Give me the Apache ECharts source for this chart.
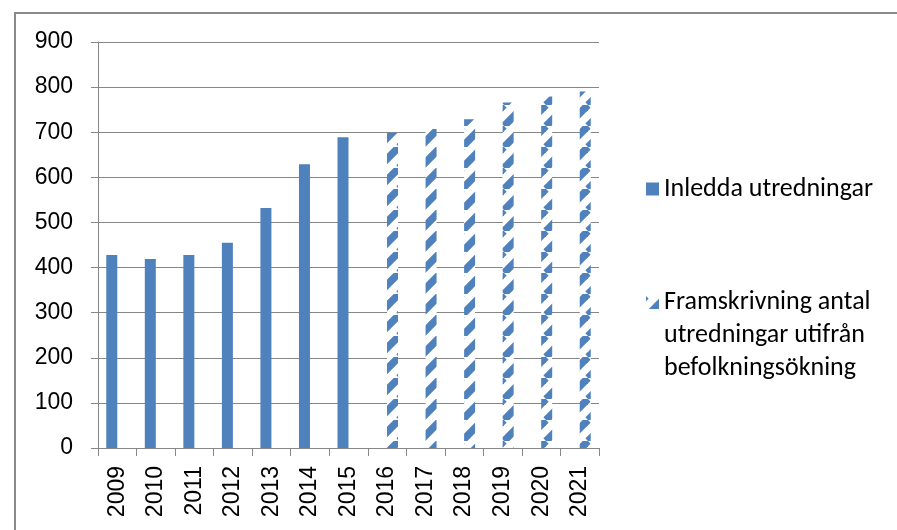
<!DOCTYPE html>
<html>
<head>
<meta charset="utf-8">
<script src="https://cdn.jsdelivr.net/npm/echarts@6/dist/echarts.min.js"></script>
<style>
  html, body { margin: 0; padding: 0; background: #fff; }
  #chart { width: 897px; height: 530px; }
</style>
</head>
<body>
<div id="chart"></div>
<script>
  var years = ['2009', '2010', '2011', '2012', '2013', '2014', '2015', '2016', '2017', '2018', '2019', '2020', '2021'];
  var yTicks = [0, 100, 200, 300, 400, 500, 600, 700, 800, 900];
  var inledda = [428, 419, 428, 455, 532, 629, 689, null, null, null, null, null, null];
  var framskrivning = [null, null, null, null, null, null, null, 699, 707, 729, 766, 779, 790];
  var name1 = 'Inledda utredningar';
  var name2 = 'Framskrivning antal\nutredningar utifrån\nbefolkningsökning';

  var blue = '#4F81BD';
  var gray = '#868686';
  var legendFont = 'Carlito, Lato, sans-serif';
  var legendSize = 26;

  // diagonal "/" hatch like the excel pattern fill
  function makeHatch() {
    var s = 21;
    var c = document.createElement('canvas');
    c.width = s;
    c.height = s;
    var ctx = c.getContext('2d');
    ctx.fillStyle = '#fff';
    ctx.fillRect(0, 0, s, s);
    ctx.strokeStyle = blue;
    ctx.lineWidth = 7.5;
    for (var k = -1; k <= 1; k++) {
      ctx.beginPath();
      ctx.moveTo(k * s, s);
      ctx.lineTo(k * s + s, 0);
      ctx.stroke();
    }
    return c;
  }
  var hatch = { image: makeHatch(), repeat: 'repeat' };

  var chart = echarts.init(document.getElementById('chart'));
  var option = {
    animation: false,
    graphic: [{
      type: 'rect',
      shape: { x: 15, y: 13, width: 900, height: 540 },
      style: { fill: 'none', stroke: '#8a8a8a', lineWidth: 2 },
      silent: true
    }],
    grid: {
      left: 98,
      right: 298,
      top: 42,
      bottom: 82,
      outerBoundsMode: 'none'
    },
    legend: [{
      data: [name1],
      left: 641,
      top: 171,
      icon: 'rect',
      itemWidth: 13,
      itemHeight: 13,
      selectedMode: false,
      textStyle: { fontFamily: legendFont, fontSize: legendSize, color: '#000' }
    }, {
      data: [name2],
      left: 641,
      top: 215,
      icon: 'rect',
      itemWidth: 13,
      itemHeight: 13,
      selectedMode: false,
      // spacer line on top so the first text line sits beside the icon
      formatter: function (n) {
        return '{sp| }\n' + n.split('\n').map(function (l) { return '{t|' + l + '}'; }).join('\n');
      },
      textStyle: {
        fontFamily: legendFont,
        fontSize: legendSize,
        color: '#000',
        rich: {
          sp: { height: 66, lineHeight: 66, fontSize: 10 },
          t: { fontFamily: legendFont, fontSize: legendSize, color: '#000', lineHeight: 33 }
        }
      }
    }],
    xAxis: {
      type: 'category',
      data: years,
      axisLine: { lineStyle: { color: gray, width: 1 } },
      axisTick: { show: true, length: 8, lineStyle: { color: gray } },
      axisLabel: {
        rotate: 90,
        margin: 18,
        color: '#000',
        fontFamily: 'Liberation Sans, Arial, sans-serif',
        fontSize: 23
      }
    },
    yAxis: {
      type: 'value',
      min: 0,
      max: 900,
      interval: 100,
      axisLine: { show: true, lineStyle: { color: gray, width: 1 } },
      axisTick: { show: true, length: 7, lineStyle: { color: gray } },
      splitLine: { lineStyle: { color: gray, width: 1 } },
      axisLabel: {
        margin: 25,
        color: '#000',
        fontFamily: 'Liberation Sans, Arial, sans-serif',
        fontSize: 23,
        formatter: function (v) { return yTicks.indexOf(v) >= 0 ? String(v) : ''; }
      }
    },
    series: [{
      name: name1,
      type: 'bar',
      data: inledda,
      barWidth: 11,
      barGap: '0%',
      itemStyle: { color: blue }
    }, {
      name: name2,
      type: 'bar',
      data: framskrivning,
      barWidth: 11,
      barGap: '0%',
      itemStyle: { color: hatch }
    }]
  };
  chart.setOption(option);
</script>
</body>
</html>
